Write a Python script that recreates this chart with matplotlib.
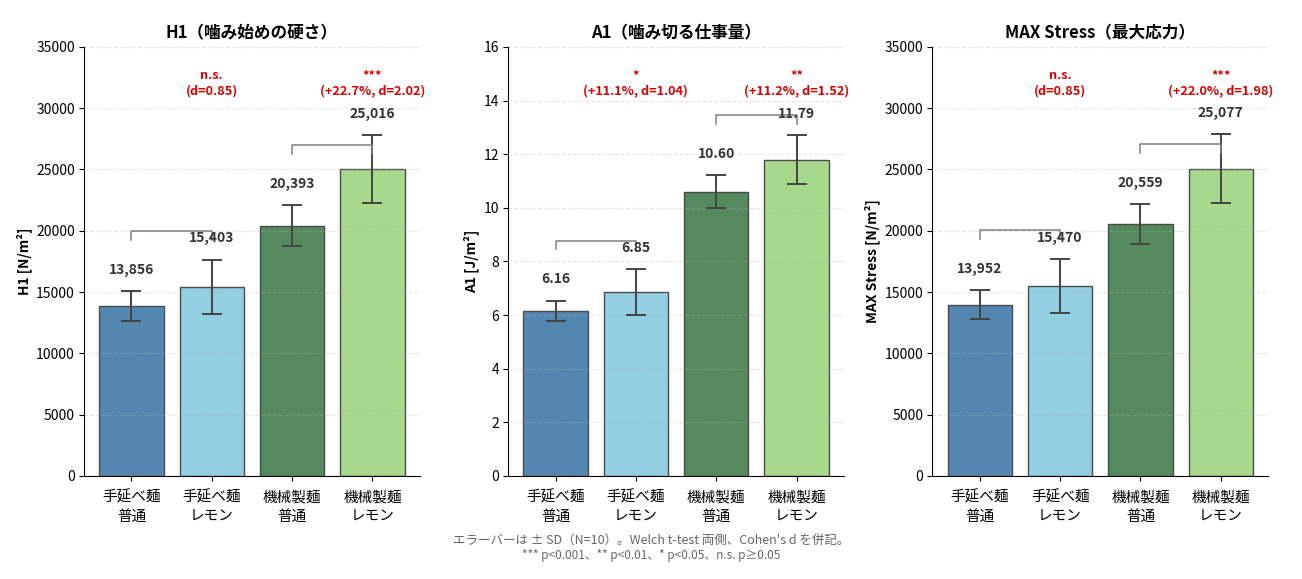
"""
咀嚼特性（H1 / A1 / MAX Stress）の比較グラフ
"""
import matplotlib
matplotlib.use('Agg')
import matplotlib.pyplot as plt
import numpy as np

# 日本語フォント
plt.rcParams['font.family'] = ['Noto Sans CJK JP', 'DejaVu Sans']
plt.rcParams['axes.unicode_minus'] = False

# ---- データ ----
groups = ['手延べ麺\n普通', '手延べ麺\nレモン', '機械製麺\n普通', '機械製麺\nレモン']
colors = ['#5387b0', '#92cfe3', '#558a5f', '#a8d88c']

h1_mean = [13856, 15403, 20393, 25016]
h1_sd = [1230, 2220, 1670, 2770]
h1_sig = ['n.s.\n(d=0.85)', '***\n(+22.7%, d=2.02)']

a1_mean = [6.16, 6.85, 10.60, 11.79]
a1_sd = [0.37, 0.85, 0.61, 0.92]
a1_sig = ['*\n(+11.1%, d=1.04)', '**\n(+11.2%, d=1.52)']

ms_mean = [13952, 15470, 20559, 25077]
ms_sd = [1190, 2190, 1600, 2800]
ms_sig = ['n.s.\n(d=0.85)', '***\n(+22.0%, d=1.98)']

pairs = [(0, 1), (2, 3)]

panels = [
    ('H1（噛み始めの硬さ）', 'H1 [N/m²]', h1_mean, h1_sd, h1_sig, 35000, 5000, '{:,.0f}'),
    ('A1（噛み切る仕事量）', 'A1 [J/m²]', a1_mean, a1_sd, a1_sig, 16, 2, '{:.2f}'),
    ('MAX Stress（最大応力）', 'MAX Stress [N/m²]', ms_mean, ms_sd, ms_sig, 35000, 5000, '{:,.0f}'),
]


def draw_panel(ax, title, ylabel, mean, sd, sig, ymax, ystep, fmt):
    x = np.arange(len(groups))
    ax.bar(x, mean, width=0.8, color=colors, edgecolor='#4a4a4a', linewidth=1.0)
    ax.errorbar(x, mean, yerr=sd, fmt='none', ecolor='#444444', elinewidth=1.4,
                capsize=7, capthick=1.4)

    # 値ラベル
    for xi, m, s in zip(x, mean, sd):
        ax.text(xi, m + s + 0.05 * ymax, fmt.format(m), ha='center', va='center',
                fontsize=10, fontweight='bold', color='#333333')

    # 比較ブラケットと有意差
    for (i, j), label in zip(pairs, sig):
        yb = mean[i] + sd[i] + 0.14 * ymax
        tick = 0.02 * ymax
        ax.plot([x[i], x[i], x[j], x[j]], [yb - tick, yb, yb, yb - tick],
                color='#808080', linewidth=1.1)
        ax.text(x[j], 0.915 * ymax, label, ha='center', va='center',
                fontsize=9.2, fontweight='bold', color='#dd0000', linespacing=1.2)

    ax.set_ylim(0, ymax)
    ax.set_yticks(np.arange(0, ymax + ystep / 2, ystep))
    ax.set_xticks(x)
    ax.set_xticklabels(groups, fontsize=10.5, linespacing=1.45)
    ax.tick_params(axis='x', pad=7)
    ax.tick_params(axis='y', labelsize=10, pad=3)
    ax.set_title(title, fontsize=12, fontweight='bold', pad=6)
    ax.set_ylabel(ylabel, fontsize=10, fontweight='bold', labelpad=3)
    ax.spines['top'].set_visible(False)
    ax.spines['right'].set_visible(False)
    ax.grid(axis='y', linestyle='--', alpha=0.3, linewidth=0.8)


fig, axes = plt.subplots(1, 3, figsize=(13.02, 5.79), dpi=100)
plt.subplots_adjust(left=0.0645, right=0.974, bottom=0.178, top=0.919, wspace=0.263)

for ax, p in zip(axes, panels):
    draw_panel(ax, *p)

fig.text(0.5, 0.067, 'エラーバーは ± SD（N=10）。Welch t-test 両側、Cohen\'s d を併記。',
         ha='center', va='center', fontsize=9.0, color='#666666')
fig.text(0.5, 0.040, '*** p<0.001、** p<0.01、* p<0.05、n.s. p≥0.05',
         ha='center', va='center', fontsize=8.5, color='#666666')

plt.savefig('out.png', dpi=100)
